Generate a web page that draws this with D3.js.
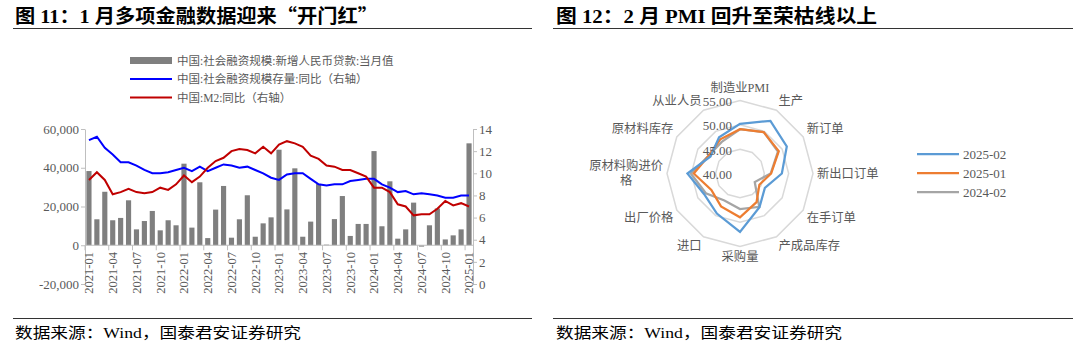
<!DOCTYPE html>
<html><head><meta charset="utf-8">
<script src="https://cdn.jsdelivr.net/npm/d3@7"></script>
<style>body{margin:0;background:#fff}svg{display:block}</style>
</head><body><svg id="c" width="1080" height="356"></svg>
<script>
// ---------------- data: left chart ----------------
const months = ["2021-01","2021-02","2021-03","2021-04","2021-05","2021-06","2021-07","2021-08","2021-09","2021-10","2021-11","2021-12",
"2022-01","2022-02","2022-03","2022-04","2022-05","2022-06","2022-07","2022-08","2022-09","2022-10","2022-11","2022-12",
"2023-01","2023-02","2023-03","2023-04","2023-05","2023-06","2023-07","2023-08","2023-09","2023-10","2023-11","2023-12",
"2024-01","2024-02","2024-03","2024-04","2024-05","2024-06","2024-07","2024-08","2024-09","2024-10","2024-11","2024-12",
"2025-01"];
const newLoans = [38300,13400,27600,12900,14100,23200,8200,12500,17700,7700,12900,10300,
42100,9100,32500,3700,18400,30600,3900,13400,25800,4400,11300,14400,
49300,18500,39700,4400,12200,31600,300,13500,25400,4800,11000,11000,
48600,9800,33000,3400,8200,22000,-700,10300,19000,3000,5100,8200,
52600];
const tsfYoY = [13.0,13.3,12.3,11.7,11.0,11.0,10.7,10.3,10.0,10.0,10.1,10.3,
10.5,10.2,10.6,10.2,10.5,10.8,10.7,10.5,10.6,10.3,10.0,9.6,
9.4,9.9,10.0,10.0,9.5,9.0,8.9,9.0,9.0,9.3,9.4,9.5,
9.5,9.0,8.7,8.3,8.4,8.1,8.2,8.1,8.0,7.8,7.8,8.0,
8.0];
const m2YoY = [9.4,10.1,9.4,8.1,8.3,8.6,8.3,8.2,8.3,8.7,8.5,9.0,
9.8,9.2,9.7,10.5,11.1,11.4,12.0,12.2,12.1,11.8,12.4,11.8,
12.6,12.9,12.7,12.4,11.6,11.3,10.7,10.6,10.3,10.3,10.0,9.7,
8.7,8.7,8.3,7.2,7.0,6.2,6.3,6.3,6.8,7.5,7.1,7.3,
7.0];
const leftTicks = [-20000,0,20000,40000,60000];
const rightTicks = [0,2,4,6,8,10,12,14];
const leftLegend = ["中国:社会融资规模:新增人民币贷款:当月值","中国:社会融资规模存量:同比（右轴）","中国:M2:同比（右轴）"];

// ---------------- data: radar ----------------
const pmiCats = ["制造业PMI","生产","新订单","新出口订单","在手订单","产成品库存","采购量","进口","出厂价格","原材料购进价格","原材料库存","从业人员"];
const pmi2025_02 = [50.2,52.5,51.1,48.6,45.9,48.0,52.0,49.5,48.5,50.8,47.0,48.6];
const pmi2025_01 = [49.1,49.8,49.2,46.4,44.6,46.8,49.0,47.8,46.8,49.5,47.4,48.1];
const pmi2024_02 = [49.1,49.8,49.0,46.3,43.5,47.9,47.3,46.4,48.1,50.1,47.4,47.5];
const pmiSeriesNames = ["2025-02","2025-01","2024-02"];
const radarTicks = [40,45,50,55];

const titleParts = [
  ["图 11：1 月多项金融数据迎来","“","开门红","”"],
  ["图 12：2 月 PMI 回升至荣枯线以上"]
];
const source = "数据来源：Wind，国泰君安证券研究";

// ---------------- drawing ----------------
const svg = d3.select("#c");
svg.append("rect").attr("width",1080).attr("height",356).attr("fill","#fff");
const SERIF = '"Liberation Serif","Noto Sans CJK SC",serif';
const CJK = '"Noto Sans CJK SC",sans-serif';
const TXT = "#595959";
const AXIS = "#bfbfbf";

// titles & rules
const titleX = [15,556], titleW = [363,321];
titleParts.forEach((parts,i)=>{
  const t = svg.append("text").attr("x",titleX[i]).attr("y",23)
    .attr("font-family",SERIF).attr("font-weight","bold").attr("font-size",19).attr("fill","#000")
    .attr("textLength",titleW[i]).attr("lengthAdjust","spacingAndGlyphs");
  parts.forEach(p=>{
    const sp = t.append("tspan").text(p);
    if (p==="“"||p==="”") sp.attr("font-family",CJK);
  });
});
[[13,532],[553,1073]].forEach(([a,b])=>{
  svg.append("line").attr("x1",a).attr("x2",b).attr("y1",28.5).attr("y2",28.5).attr("stroke","#333").attr("stroke-width",1.2);
  svg.append("line").attr("x1",a).attr("x2",b).attr("y1",318.5).attr("y2",318.5).attr("stroke","#333").attr("stroke-width",1.2);
});
[15,556].forEach(x=>{
  svg.append("text").attr("x",x).attr("y",338).text(source)
    .attr("font-family",SERIF).attr("font-size",15).attr("fill","#000")
    .attr("textLength",286).attr("lengthAdjust","spacingAndGlyphs");
});

// ---- left chart ----
const x = d3.scaleBand().domain(months).range([85,473]).paddingInner(0.35).paddingOuter(0.175);
const yL = d3.scaleLinear().domain([-20000,60000]).range([284,129]);
const yR = d3.scaleLinear().domain([0,14]).range([284,129]);
const cx = m => x(m) + x.bandwidth()/2;

const g = svg.append("g");
g.selectAll("rect.bar").data(months).join("rect").attr("class","bar")
  .attr("x",m=>x(m)).attr("width",x.bandwidth())
  .attr("y",(m,i)=>Math.min(yL(newLoans[i]),yL(0)))
  .attr("height",(m,i)=>Math.abs(yL(newLoans[i])-yL(0)))
  .attr("fill","#7f7f7f");

const fmt = d => d3.format(",")(d).replace("\u2212","-");
const la = g.append("g").attr("transform","translate(85,0)")
  .call(d3.axisLeft(yL).tickValues(leftTicks).tickFormat(fmt).tickSize(4).tickSizeOuter(0).tickPadding(2));
const ra = g.append("g").attr("transform","translate(473,0)")
  .call(d3.axisRight(yR).tickValues(rightTicks).tickSize(4).tickSizeOuter(0).tickPadding(2));
[la,ra].forEach(a=>{
  a.select(".domain").attr("stroke",AXIS);
  a.selectAll(".tick line").attr("stroke",AXIS);
  a.selectAll("text").attr("font-family",SERIF).attr("font-size",13).attr("fill",TXT);
});
// x axis at zero
const y0 = yL(0);
g.append("line").attr("x1",85).attr("x2",473).attr("y1",y0).attr("y2",y0).attr("stroke",AXIS);
const step = x.step();
const tickIdx = months.map((m,i)=>i).filter(i=>i%3===0);
g.selectAll("line.xt").data(tickIdx).join("line").attr("class","xt")
  .attr("x1",i=>x.range()[0]+i*step).attr("x2",i=>x.range()[0]+i*step)
  .attr("y1",y0).attr("y2",y0+5).attr("stroke",AXIS);
g.selectAll("text.xl").data(tickIdx).join("text").attr("class","xl")
  .attr("transform",i=>`translate(${cx(months[i])},252) rotate(-90)`)
  .attr("text-anchor","end").attr("dy","0.35em")
  .attr("font-family",SERIF).attr("font-size",12.5).attr("fill",TXT)
  .text(i=>months[i]);

const line = d3.line().x((d,i)=>cx(months[i])).y(d=>yR(d));
g.append("path").datum(tsfYoY).attr("d",line).attr("fill","none").attr("stroke","#0000ff").attr("stroke-width",2);
g.append("path").datum(m2YoY).attr("d",line).attr("fill","none").attr("stroke","#c00000").attr("stroke-width",2);

// legend
const legY = [60.5,79,97.5];
g.append("rect").attr("x",130).attr("y",legY[0]-3.5).attr("width",42).attr("height",7).attr("fill","#7f7f7f");
g.append("line").attr("x1",130).attr("x2",172).attr("y1",legY[1]).attr("y2",legY[1]).attr("stroke","#0000ff").attr("stroke-width",2);
g.append("line").attr("x1",130).attr("x2",172).attr("y1",legY[2]).attr("y2",legY[2]).attr("stroke","#c00000").attr("stroke-width",2);
leftLegend.forEach((t,i)=>{
  g.append("text").attr("x",177).attr("y",legY[i]).attr("dy","0.35em").text(t)
    .attr("font-family",SERIF).attr("font-size",11.5).attr("fill",TXT);
});

// ---- radar ----
const RC = {x:740, y:173.5}, R = 73;
const r = d3.scaleLinear().domain([40,55]).range([0,R]);
const n = pmiCats.length;
const ang = i => i*2*Math.PI/n;
const pt = (i,rad) => [RC.x + rad*Math.sin(ang(i)), RC.y - rad*Math.cos(ang(i))];
const rg = svg.append("g");
radarTicks.filter(t=>t>40).forEach(t=>{
  const pts = d3.range(n).map(i=>pt(i,r(t)));
  rg.append("path").attr("d",d3.line().curve(d3.curveLinearClosed)(pts))
    .attr("fill","none").attr("stroke","#d9d9d9").attr("stroke-width",1.5);
});
const colors = ["#5b9bd5","#ed7d31","#a5a5a5"];
const series = [pmi2025_02,pmi2025_01,pmi2024_02];
[2,1,0].forEach(s=>{
  const pts = series[s].map((v,i)=>pt(i,r(v)));
  rg.append("path").attr("d",d3.line().curve(d3.curveLinearClosed)(pts))
    .attr("fill","none").attr("stroke",colors[s]).attr("stroke-width",2.25).attr("stroke-linejoin","miter");
});
// tick labels
radarTicks.forEach(t=>{
  rg.append("text").attr("x",RC.x-8).attr("y",RC.y-r(t)+1).attr("dy","0.35em")
    .attr("text-anchor","end").attr("font-family",SERIF).attr("font-size",13).attr("fill",TXT)
    .text(d3.format(".2f")(t));
});
// category labels
pmiCats.forEach((c,i)=>{
  const a = ang(i), s = Math.sin(a), co = Math.cos(a);
  const [px,py] = pt(i,R+4);
  const anchor = Math.abs(s)<0.01 ? "middle" : (s>0 ? "start":"end");
  let yc = py;
  if (Math.abs(co)>0.01) yc = py - (co>0 ? 6 : -6);
  if (i===0) yc -= 2.5;
  const t = rg.append("text").attr("font-family",SERIF).attr("font-size",12.3).attr("fill",TXT);
  if (c.length>6) {
    const l1 = c.slice(0,6), l2 = c.slice(6);
    const w = l1.length*12.3;
    t.attr("text-anchor","middle");
    t.append("tspan").attr("x",px-w/2).attr("y",yc-7.5).attr("dy","0.35em").text(l1);
    t.append("tspan").attr("x",px-w/2).attr("y",yc+7.5).attr("dy","0.35em").text(l2);
  } else {
    t.attr("x",px).attr("y",yc).attr("dy","0.35em").attr("text-anchor",anchor).text(c);
  }
});
// legend
const rlY = [154,173,192];
pmiSeriesNames.forEach((nm,i)=>{
  rg.append("line").attr("x1",917).attr("x2",959).attr("y1",rlY[i]).attr("y2",rlY[i]).attr("stroke",colors[i]).attr("stroke-width",2.25);
  rg.append("text").attr("x",963).attr("y",rlY[i]).attr("dy","0.35em").text(nm)
    .attr("font-family",SERIF).attr("font-size",13).attr("fill",TXT);
});
</script></body></html>
